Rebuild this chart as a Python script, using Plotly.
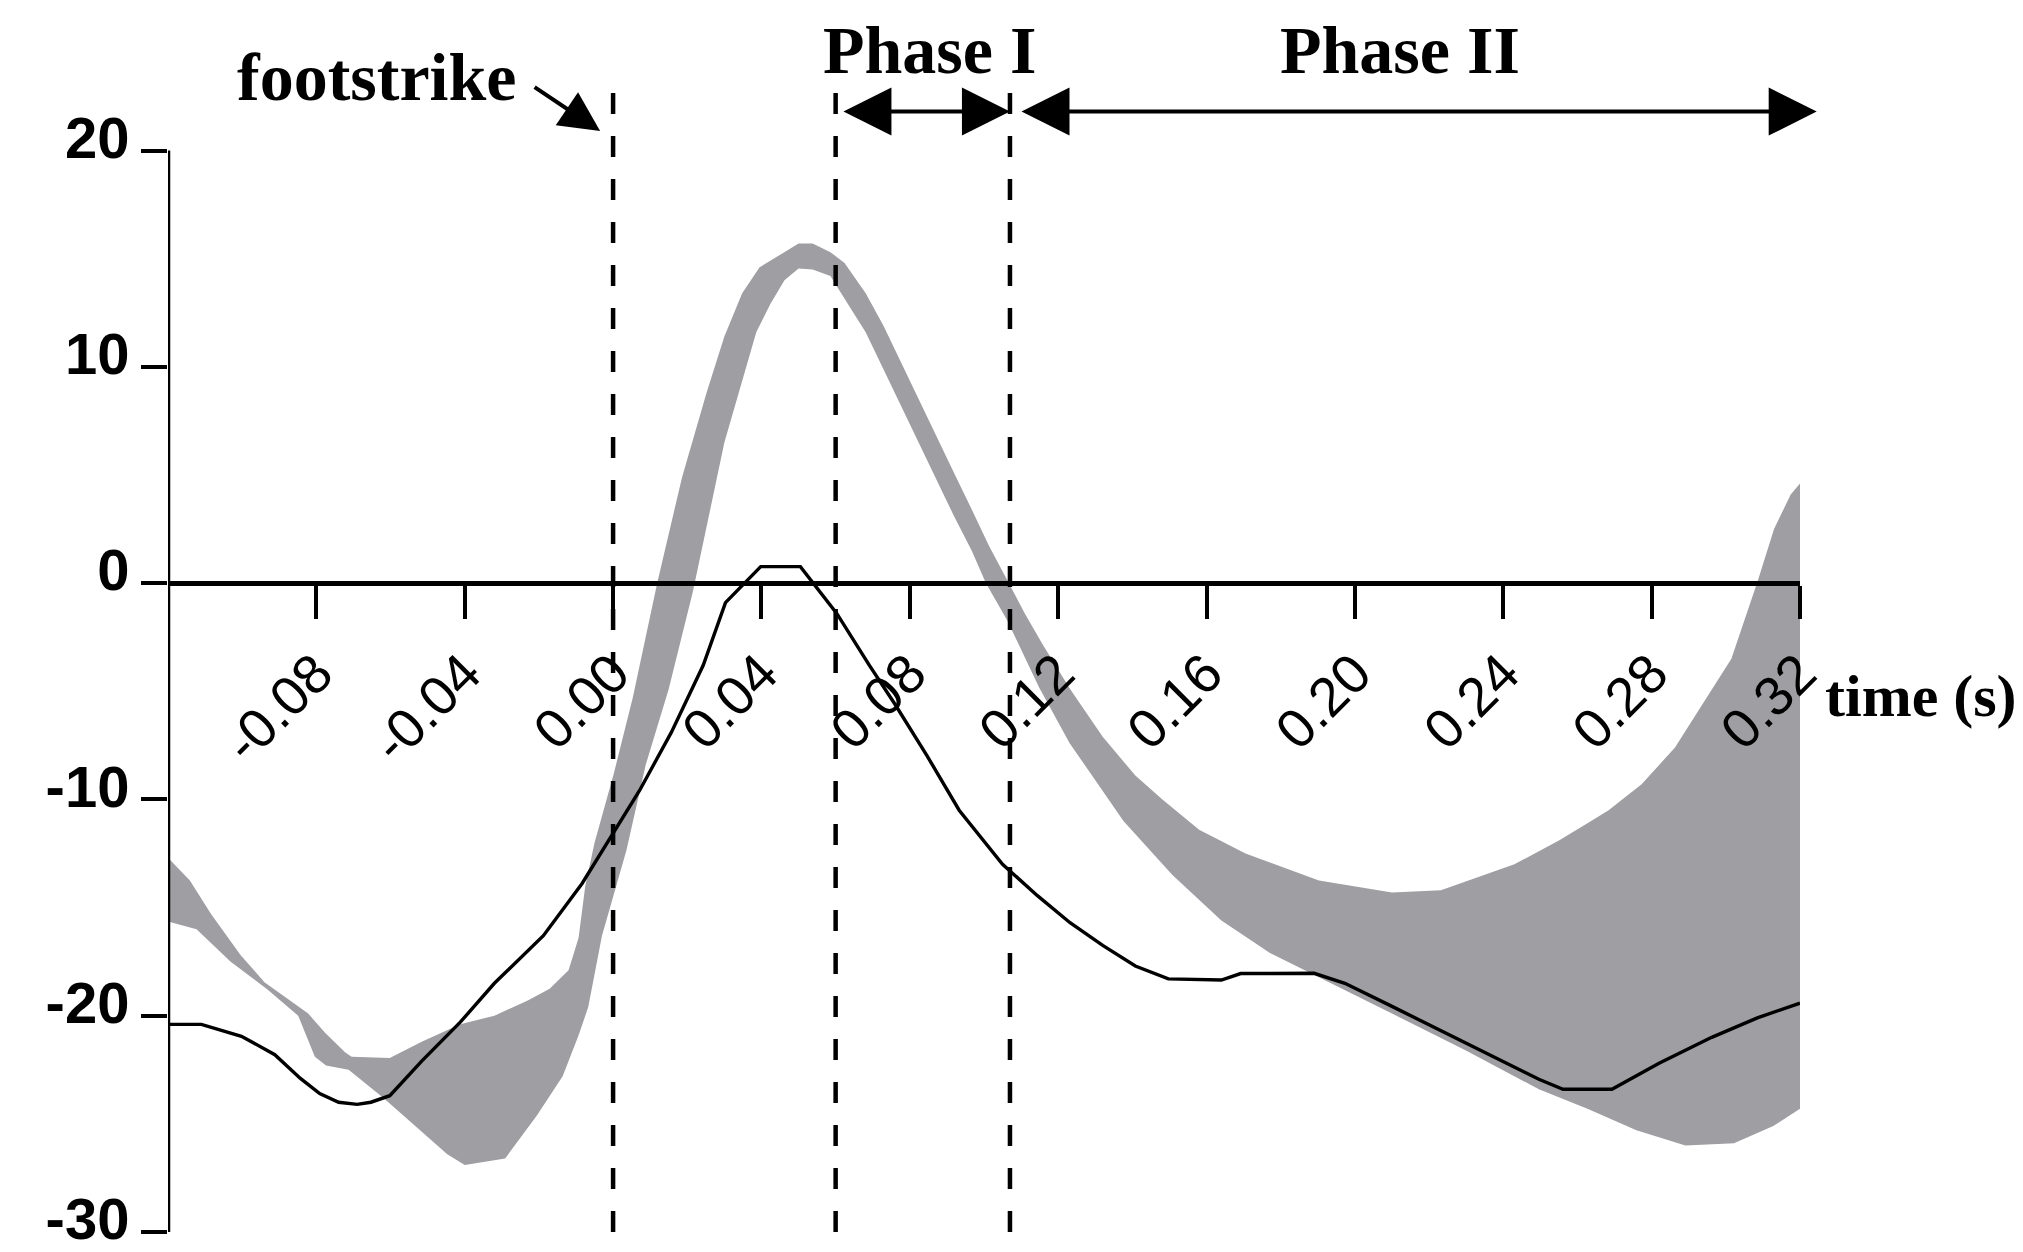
import plotly.graph_objects as go

# ---------------- data ----------------
time_mean = [-0.120, -0.111, -0.1002, -0.0912, -0.0843, -0.0791, -0.0740, -0.0690, -0.0653,
             -0.0602, -0.0516, -0.0412, -0.0320, -0.0188, -0.0084, 0.0000, 0.0071, 0.0157,
             0.0243, 0.0303, 0.0355, 0.0398, 0.0505, 0.0535, 0.0603, 0.0691, 0.0760, 0.0847,
             0.0933, 0.1050, 0.1144, 0.1232, 0.1320, 0.1408, 0.1497, 0.1640, 0.1692, 0.1890,
             0.1973, 0.2100, 0.2298, 0.2496, 0.2561, 0.2693, 0.2820, 0.2891, 0.2962, 0.3085,
             0.3200]
angle_mean = [-20.4, -20.4, -20.95, -21.8, -22.9, -23.6, -24.0, -24.1, -24.0,
              -23.7, -22.1, -20.3, -18.5, -16.3, -13.9, -11.6, -9.6, -6.9,
              -3.8, -0.9, 0.0, 0.76, 0.76, 0.1, -1.4, -3.8, -5.6, -8.0,
              -10.5, -13.0, -14.45, -15.7, -16.75, -17.7, -18.3, -18.35, -18.05, -18.04,
              -18.5, -19.57, -21.26, -22.94, -23.4, -23.4, -22.2, -21.6, -21.0, -20.1,
              -19.42]

time_upper = [-0.1200, -0.1141, -0.1084, -0.1004, -0.0940, -0.0822, -0.0776, -0.0722, -0.0705,
              -0.0602, -0.0516, -0.0412, -0.0320, -0.0230, -0.0171, -0.0120, -0.0093, -0.0075,
              -0.0050, 0.0002, 0.0053, 0.0119, 0.0186, 0.0252, 0.0300, 0.0348, 0.0395, 0.0443,
              0.0500, 0.0538, 0.0586, 0.0624, 0.0681, 0.0729, 0.0776, 0.0824, 0.0871, 0.0919,
              0.0967, 0.1014, 0.1062, 0.1110, 0.1157, 0.1232, 0.1320, 0.1408, 0.1481, 0.1580,
              0.1705, 0.1903, 0.2100, 0.2232, 0.2430, 0.2550, 0.2627, 0.2684, 0.2773, 0.2863,
              0.2952, 0.3015, 0.3086, 0.3130, 0.3175, 0.3200]
angle_upper = [-12.7, -13.75, -15.3, -17.2, -18.45, -19.9, -20.8, -21.7, -21.9,
               -21.95, -21.2, -20.4, -20.0, -19.3, -18.75, -17.9, -16.4, -14.0,
               -12.0, -8.8, -5.3, 0.0, 4.9, 8.8, 11.4, 13.4, 14.6, 15.1,
               15.7, 15.7, 15.3, 14.8, 13.4, 11.9, 10.2, 8.5, 6.8, 5.1,
               3.4, 1.7, 0.15, -1.4, -2.8, -4.9, -7.1, -8.9, -10.0, -11.4,
               -12.5, -13.75, -14.3, -14.2, -13.0, -11.9, -11.1, -10.5, -9.3, -7.6,
               -5.2, -3.5, 0.1, 2.5, 4.1, 4.6]

time_lower = [-0.1200, -0.1123, -0.1031, -0.0931, -0.0849, -0.0804, -0.0774, -0.0713, -0.0619,
              -0.0533, -0.0447, -0.0400, -0.0291, -0.0205, -0.0136, -0.0093, -0.0067, -0.0030,
              0.0036, 0.0088, 0.0150, 0.0215, 0.0252, 0.0300, 0.0348, 0.0386, 0.0424, 0.0462,
              0.0500, 0.0538, 0.0586, 0.0633, 0.0681, 0.0729, 0.0776, 0.0824, 0.0871, 0.0919,
              0.0967, 0.1005, 0.1062, 0.1110, 0.1148, 0.1231, 0.1376, 0.1508, 0.1640, 0.1771,
              0.1890, 0.2100, 0.2298, 0.2496, 0.2627, 0.2759, 0.2891, 0.3022, 0.3128, 0.3200]
angle_lower = [-15.65, -16.0, -17.5, -18.8, -20.0, -21.9, -22.3, -22.5, -23.8,
               -25.1, -26.4, -26.9, -26.6, -24.6, -22.8, -20.9, -19.6, -16.3,
               -12.35, -8.4, -4.9, -0.4, 2.6, 6.5, 9.4, 11.6, 12.9, 14.0,
               14.55, 14.5, 14.2, 12.9, 11.6, 9.9, 8.2, 6.5, 4.8, 3.1,
               1.5, 0.0, -1.7, -3.4, -4.8, -7.4, -11.0, -13.5, -15.6, -17.1,
               -18.1, -19.9, -21.6, -23.4, -24.3, -25.3, -26.0, -25.9, -25.1, -24.3]

event_times = [0.0, 0.060, 0.107]          # footstrike, start of phase I, start of phase II
phase1_span = [0.0617, 0.107]
phase2_span = [0.1097, 0.3245]
x_ticks = [-0.08, -0.04, 0.00, 0.04, 0.08, 0.12, 0.16, 0.20, 0.24, 0.28, 0.32]
x_tick_text = ["-0.08", "-0.04", "0.00", "0.04", "0.08", "0.12", "0.16", "0.20", "0.24", "0.28", "0.32"]
y_ticks = [-30, -20, -10, 0, 10, 20]
y_tick_text = ["-30", "-20", "-10", "0", "10", "20"]

X_MIN, X_MAX = -0.12, 0.32
Y_MIN, Y_MAX, Y_AXIS_TOP = -30, 24, 20
DASH_TOP = 23.4
ARROW_Y = 21.8

SERIF = "Liberation Serif, Times New Roman, serif"
SANS = "Liberation Sans, Arial, sans-serif"

fig = go.Figure()

# grey band (polygon from upper edge forward and lower edge backward)
fig.add_trace(go.Scatter(
    x=time_upper + time_lower[::-1],
    y=angle_upper + angle_lower[::-1],
    fill="toself", fillcolor="#9e9ea3",
    line=dict(width=0, color="#9e9ea3"),
    mode="lines", hoverinfo="skip", showlegend=False))

# dashed event lines
for t in event_times:
    fig.add_trace(go.Scatter(
        x=[t, t], y=[Y_MIN, DASH_TOP], mode="lines",
        line=dict(color="black", width=4.5, dash="21px,22px"),
        hoverinfo="skip", showlegend=False))

# mean curve
fig.add_trace(go.Scatter(
    x=time_mean, y=angle_mean, mode="lines",
    line=dict(color="black", width=3.4),
    hoverinfo="skip", showlegend=False))

# y axis line (from -30 up to 20 only)
fig.add_trace(go.Scatter(
    x=[X_MIN, X_MIN], y=[Y_MIN, Y_AXIS_TOP], mode="lines",
    line=dict(color="black", width=4.5),
    hoverinfo="skip", showlegend=False, cliponaxis=False))

# phase arrows
for span in (phase1_span, phase2_span):
    fig.add_annotation(
        x=span[1], y=ARROW_Y, ax=span[0], ay=ARROW_Y,
        xref="x", yref="y", axref="x", ayref="y",
        text="", showarrow=True, arrowside="end+start",
        arrowhead=2, startarrowhead=2, arrowsize=2.4, startarrowsize=2.4,
        arrowwidth=4, arrowcolor="black")

# footstrike arrow
fig.add_annotation(
    x=-0.0035, y=20.9, ax=-67, ay=-45, xref="x", yref="y",
    text="", showarrow=True, arrowhead=2, arrowsize=2.0, arrowwidth=4,
    arrowcolor="black")

# texts
texts = [
    ("footstrike", 0.128, 0.989, 68),
    ("Phase I", 0.4665, 1.012, 68),
    ("Phase II", 0.755, 1.012, 68),
    ("time (s)", 1.074, 0.459, 60),
]
for txt, xp, yp, sz in texts:
    fig.add_annotation(
        x=xp, y=yp, xref="paper", yref="paper", text="<b>%s</b>" % txt,
        showarrow=False, xanchor="center", yanchor="middle",
        font=dict(family=SERIF, size=sz, color="black"))

fig.update_layout(
    width=2023, height=1252,
    margin=dict(l=168, r=223, t=64, b=20, autoexpand=False),
    paper_bgcolor="white", plot_bgcolor="white",
    showlegend=False,
    xaxis=dict(
        range=[X_MIN, X_MAX], anchor="free",
        position=(0 - Y_MIN) / (Y_MAX - Y_MIN),
        showline=True, linewidth=4.5, linecolor="black",
        showgrid=False, zeroline=False,
        tickmode="array", tickvals=x_ticks, ticktext=x_tick_text,
        ticks="outside", ticklen=33, tickwidth=4, tickcolor="black",
        tickangle=-45, ticklabeloverflow="allow",
        tickfont=dict(family=SANS, size=55, color="black"),
    ),
    yaxis=dict(
        range=[Y_MIN, Y_MAX], showline=False,
        showgrid=False, zeroline=False,
        tickmode="array", tickvals=y_ticks, ticktext=y_tick_text,
        ticks="outside", ticklen=26, tickwidth=4, tickcolor="black",
        ticklabeloverflow="allow", ticklabelshift=-13,
        tickfont=dict(family=SANS, size=58, color="black", weight="bold"),
    ),
)

fig.write_html("out.html")
